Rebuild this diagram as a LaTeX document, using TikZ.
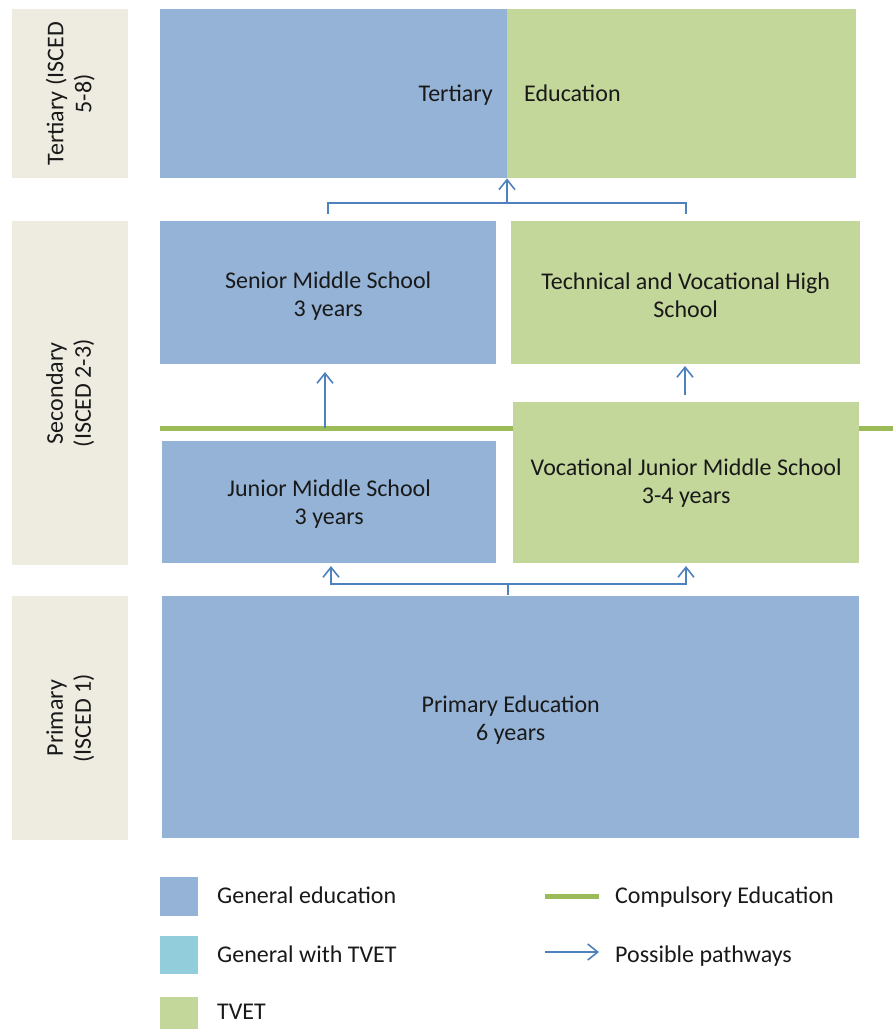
\documentclass[tikz,border=0pt]{standalone}
\usepackage{fontspec}
\setmainfont{Carlito}
\usetikzlibrary{arrows.meta}
\definecolor{tan}{HTML}{EEECE1}
\definecolor{genblue}{HTML}{95B3D7}
\definecolor{tvgreen}{HTML}{C4D79B}
\definecolor{tvetblue}{HTML}{92CDDC}
\definecolor{compgreen}{HTML}{9BBB59}
\definecolor{pathblue}{HTML}{4F81BD}
\begin{document}
\begin{tikzpicture}[x=1pt,y=-1pt,font=\fontsize{24}{28}\selectfont,
  box/.style={inner sep=0pt,anchor=north west,draw=none},
  btext/.style={inner sep=0pt,align=center,text=black!90},
  lvl/.style={box,fill=tan},
  gen/.style={box,fill=genblue},
  tv/.style={box,fill=tvgreen},
  conn/.style={draw=pathblue,line width=1.6pt},
  arr/.style={conn,-{Straight Barb[length=10pt,width=16pt,line width=1.6pt]}},
  legtext/.style={anchor=base west,inner sep=0pt,text=black!90},
  rot/.style={rotate=90,align=center,inner sep=0pt,text=black!90}
]
\useasboundingbox (0,0) rectangle (893,1029);
% level labels
\node[lvl,minimum width=116pt,minimum height=169pt] (lt) at (12,9) {};
\node[rot] (ltt) at (lt.center) {Tertiary (ISCED\\5-8)};
\node[lvl,minimum width=116pt,minimum height=344pt] (ls) at (12,221) {};
\node[rot] (lst) at (ls.center) {Secondary\\(ISCED 2-3)};
\node[lvl,minimum width=116pt,minimum height=244pt] (lp) at (12,596) {};
\node[rot] (lpt) at (lp.center) {Primary\\(ISCED 1)};
% tertiary
\node[gen,minimum width=347pt,minimum height=169pt] (tertL) at (160,9) {};
\node[tv,minimum width=349pt,minimum height=169pt] (tertR) at (507,9) {};
\node[anchor=base east,inner sep=0pt,text=black!90] (tertTxt) at (493,101) {Tertiary};
\node[anchor=base west,inner sep=0pt,text=black!90] (eduTxt) at (524,101) {Education};
% compulsory line
\coordinate (cl1) at (160,428);
\coordinate (cl2) at (893,428);
\draw[compgreen,line width=5pt] (cl1) -- (cl2);
% secondary
\node[gen,minimum width=336pt,minimum height=143pt] (senior) at (160,221) {};
\node[btext] (seniorT) at ([yshift=-3pt]senior.center) {Senior Middle School\\3 years};
\node[tv,minimum width=349pt,minimum height=143pt] (tech) at (511,221) {};
\node[btext] (techT) at ([yshift=-3pt]tech.center) {Technical and Vocational High\\School};
\node[gen,minimum width=334pt,minimum height=122pt] (junior) at (162,441) {};
\node[btext] (juniorT) at ([yshift=-2pt]junior.center) {Junior Middle School\\3 years};
\node[tv,minimum width=346pt,minimum height=161pt] (voc) at (513,402) {};
\node[btext] (vocT) at (voc.center) {Vocational Junior Middle School\\3-4 years};
% primary
\node[gen,minimum width=697pt,minimum height=242pt] (primary) at (162,596) {};
\node[btext] (primaryT) at ([yshift=-3pt]primary.center) {Primary Education\\6 years};
% connectors to tertiary
\coordinate (s1) at (senior.north |- 0,214);
\coordinate (t1) at (tech.north |- 0,214);
\coordinate (jn) at (507,203);
\draw[conn] (s1) |- (jn) -| (t1);
\draw[arr] (jn) -- (jn |- tertL.south);
% senior and tech arrows
\coordinate (sa) at (325,428);
\draw[arr] (sa) -- (325,372);
\coordinate (ta) at (685,395);
\draw[arr] (ta) -- (685,366);
% bottom connectors
\coordinate (pb) at (508,595);
\coordinate (pj) at (508,584);
\draw[conn] (pb) -- (pj);
\draw[arr] (pj) -| (331,566);
\draw[arr] (pj) -| (686,566);
% legend
\node[box,fill=genblue,minimum width=38pt,minimum height=39pt] (lg1) at (160,877) {};
\node[box,fill=tvetblue,minimum width=38pt,minimum height=38pt] (lg2) at (160,936) {};
\node[box,fill=tvgreen,minimum width=38pt,minimum height=32pt] (lg3) at (160,997) {};
\node[legtext] (lt1) at (217,903) {General education};
\node[legtext] (lt2) at (217,962) {General with TVET};
\node[legtext] (lt3) at (217,1019) {TVET};
\coordinate (lc1) at (545,896);
\coordinate (lc2) at (599,896);
\draw[compgreen,line width=5pt] (lc1) -- (lc2);
\coordinate (la1) at (545,952);
\coordinate (la2) at (599,952);
\draw[arr] (la1) -- (la2);
\node[legtext] (lt4) at (615,903) {Compulsory Education};
\node[legtext] (lt5) at (615,962) {Possible pathways};
\end{tikzpicture}
\end{document}
